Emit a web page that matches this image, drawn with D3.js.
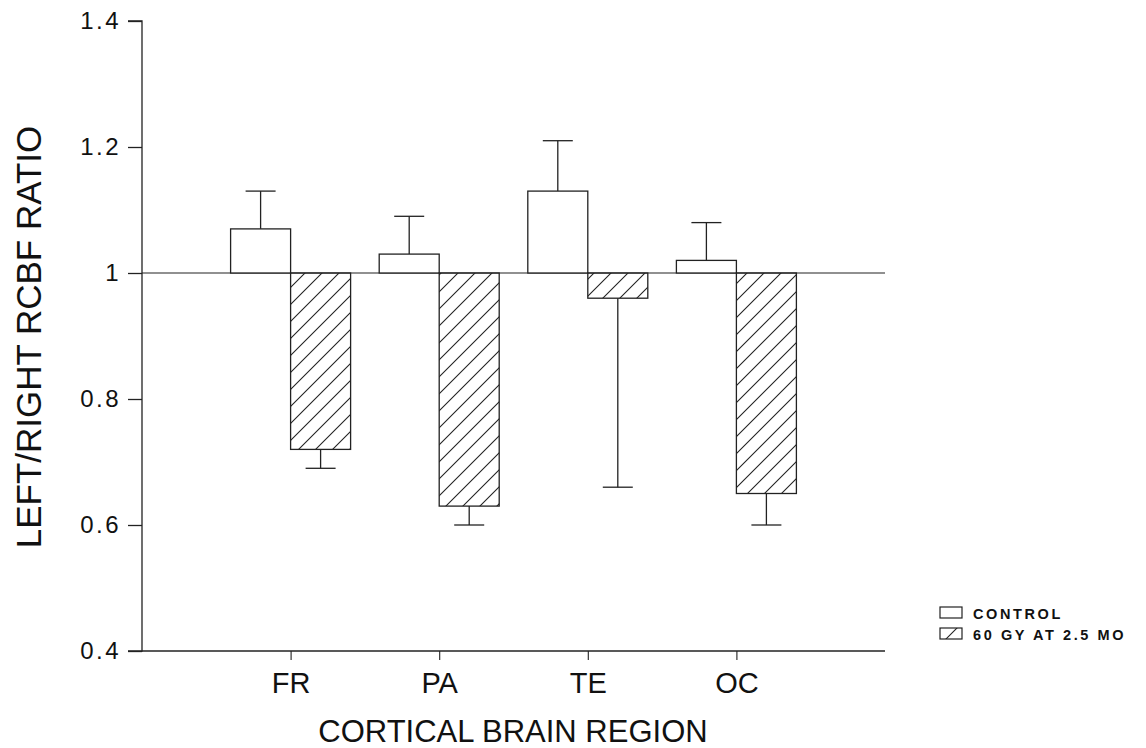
<!DOCTYPE html>
<html>
<head>
<meta charset="utf-8">
<script src="https://cdn.jsdelivr.net/npm/d3@7"></script>
<style>
  body { margin: 0; background: #fff; }
  text { font-family: "Liberation Sans", Arial, Helvetica, sans-serif; fill: #111; }
</style>
</head>
<body>
<div id="vis"></div>
<script>
// data
let regions = ['FR', 'PA', 'TE', 'OC'];
let controlValues = [1.07, 1.03, 1.13, 1.02];
let controlErrTop = [1.13, 1.09, 1.21, 1.08];
let treatedValues = [0.72, 0.63, 0.96, 0.65];
let treatedErrBottom = [0.69, 0.60, 0.66, 0.60];
let yTicks = [0.4, 0.6, 0.8, 1, 1.2, 1.4];
let seriesNames = ['CONTROL', '60 GY AT 2.5 MO'];

let width = 1146, height = 748;
let x0 = 142, x1 = 885, yTop = 21, yBottom = 651;
let barW = 60, capW = 30, ink = '#222';

let svg = d3.select('#vis')
  .append('svg')
  .attr('width', width)
  .attr('height', height);

// hatch pattern
let defs = svg.append('defs');
let pat = defs.append('pattern')
  .attr('id', 'hatch')
  .attr('patternUnits', 'userSpaceOnUse')
  .attr('width', 17)
  .attr('height', 17);
pat.append('path')
  .attr('d', 'M0,17 L17,0 M-4,4 L4,-4 M13,21 L21,13')
  .attr('stroke', ink)
  .attr('stroke-width', 1.1);

let x = d3.scaleLinear().domain([0, 5]).range([x0, x1]);
let y = d3.scaleLinear().domain([0.4, 1.4]).range([yBottom, yTop]);

// y axis
let yAxis = d3.axisLeft(y)
  .tickValues(yTicks)
  .tickSize(14)
  .tickPadding(7)
  .tickFormat(d => d === 1 ? '1' : d3.format('.1f')(d));
let gy = svg.append('g')
  .attr('transform', `translate(${x0},0)`)
  .call(yAxis);
gy.select('.domain').attr('stroke', ink).attr('stroke-width', 1.3).attr('d', `M-14,${yTop}H0V${yBottom}H-14`);
gy.selectAll('.tick line').attr('stroke', ink).attr('stroke-width', 1.3);
gy.selectAll('.tick text')
  .style('font-size', '24px')
  .style('letter-spacing', '2.5px')
  .attr('fill', '#111');

// x axis
let xAxis = d3.axisBottom(x)
  .tickValues([1, 2, 3, 4])
  .tickSize(9)
  .tickPadding(12)
  .tickFormat(d => regions[d - 1]);
let gx = svg.append('g')
  .attr('transform', `translate(0,${yBottom})`)
  .call(xAxis);
gx.select('.domain').attr('stroke', ink).attr('stroke-width', 1.3).attr('d', `M${x0},0H${x1}`);
gx.selectAll('.tick line').attr('stroke', ink).attr('stroke-width', 1.1);
gx.selectAll('.tick text').style('font-size', '29px').attr('fill', '#111');

// reference line at 1
svg.append('line')
  .attr('x1', x0).attr('x2', x1)
  .attr('y1', y(1)).attr('y2', y(1))
  .attr('stroke', ink).attr('stroke-width', 1.2);

// error bars (drawn first so bars sit on top)
let errG = svg.append('g').attr('stroke', ink).attr('stroke-width', 1.3);
regions.forEach((r, i) => {
  let cx = x(i + 1) - barW / 2;
  errG.append('line').attr('x1', cx).attr('x2', cx)
    .attr('y1', y(controlValues[i])).attr('y2', y(controlErrTop[i]));
  errG.append('line').attr('x1', cx - capW / 2).attr('x2', cx + capW / 2)
    .attr('y1', y(controlErrTop[i])).attr('y2', y(controlErrTop[i]));
  let tx = x(i + 1) + barW / 2;
  errG.append('line').attr('x1', tx).attr('x2', tx)
    .attr('y1', y(treatedValues[i])).attr('y2', y(treatedErrBottom[i]));
  errG.append('line').attr('x1', tx - capW / 2).attr('x2', tx + capW / 2)
    .attr('y1', y(treatedErrBottom[i])).attr('y2', y(treatedErrBottom[i]));
});

// control bars
svg.append('g').selectAll('rect')
  .data(controlValues)
  .join('rect')
  .attr('x', (d, i) => x(i + 1) - barW)
  .attr('width', barW)
  .attr('y', d => y(d))
  .attr('height', d => y(1) - y(d))
  .attr('fill', 'white')
  .attr('stroke', ink)
  .attr('stroke-width', 1.3);

// treated bars (hang down from 1)
svg.append('g').selectAll('rect')
  .data(treatedValues)
  .join('rect')
  .attr('x', (d, i) => x(i + 1))
  .attr('width', barW)
  .attr('y', y(1))
  .attr('height', d => y(d) - y(1))
  .attr('fill', 'url(#hatch)')
  .attr('stroke', ink)
  .attr('stroke-width', 1.3);

// axis titles
svg.append('text')
  .attr('transform', `translate(41,337) rotate(-90)`)
  .attr('text-anchor', 'middle')
  .style('font-size', '35px')
  .text('LEFT/RIGHT RCBF RATIO');

svg.append('text')
  .attr('x', 513)
  .attr('y', 742)
  .attr('text-anchor', 'middle')
  .style('font-size', '31px')
  .text('CORTICAL BRAIN REGION');

// legend
let legend = svg.append('g').attr('transform', 'translate(940,607)');
seriesNames.forEach((name, i) => {
  let row = legend.append('g').attr('transform', `translate(0,${i * 21})`);
  row.append('rect')
    .attr('width', 22).attr('height', 11)
    .attr('fill', i === 0 ? 'white' : 'url(#hatch)')
    .attr('stroke', ink).attr('stroke-width', 1.2);
  row.append('text')
    .attr('x', 33).attr('y', 11.5)
    .style('font-size', '14.5px')
    .style('font-weight', 'bold')
    .style('letter-spacing', '2.6px')
    .text(name);
});
</script>
</body>
</html>
